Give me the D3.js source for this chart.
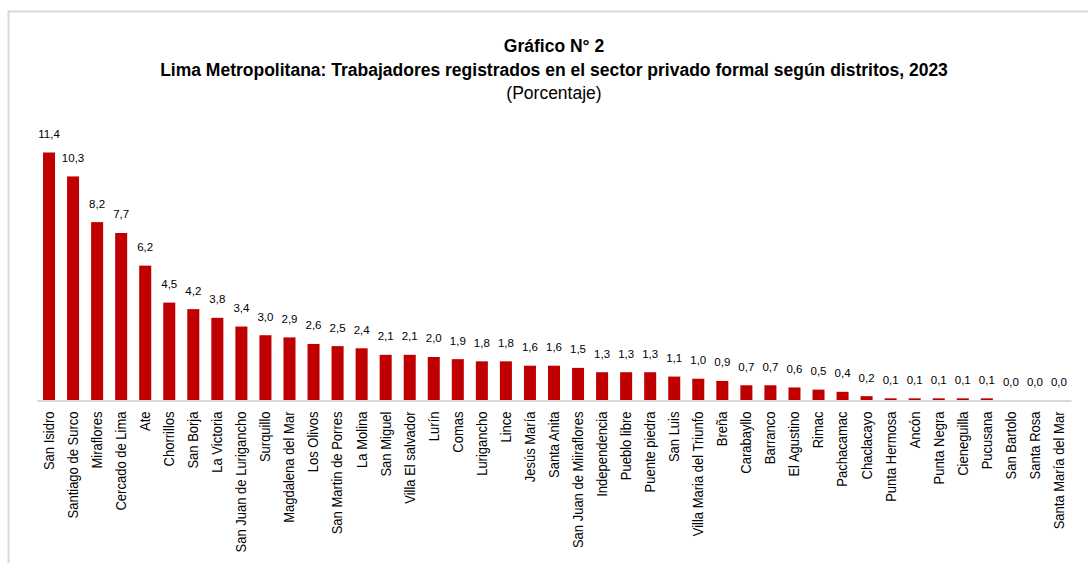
<!DOCTYPE html>
<html>
  <head>
    <meta charset="utf-8">
    <title>Trabajadores registrados por distrito</title>
    <script src="https://d3js.org/d3.v7.min.js"></script>
    <style>
      body { margin: 0; background: #fff; }
      svg text { font-family: "Liberation Sans", Arial, sans-serif; fill: #000; }
    </style>
  </head>
  <body>
    <svg id="chart" width="1088" height="563"></svg>

    <script>
      // data
      const distritos = [
        "San Isidro", "Santiago de Surco", "Miraflores", "Cercado de Lima", "Ate",
        "Chorrillos", "San Borja", "La Victoria", "San Juan de Lurigancho", "Surquillo",
        "Magdalena del Mar", "Los Olivos", "San Martin de Porres", "La Molina", "San Miguel",
        "Villa El salvador", "Lurín", "Comas", "Lurigancho", "Lince",
        "Jesús María", "Santa Anita", "San Juan de Miiraflores", "Independencia", "Pueblo libre",
        "Puente piedra", "San Luis", "Villa Maria del Triunfo", "Breña", "Carabayllo",
        "Barranco", "El Agustino", "Rimac", "Pachacamac", "Chaclacayo",
        "Punta Hermosa", "Ancón", "Punta Negra", "Cieneguilla", "Pucusana",
        "San Bartolo", "Santa Rosa", "Santa María del Mar"
      ];
      const porcentajes = [
        11.4, 10.3, 8.2, 7.7, 6.2,
        4.5, 4.2, 3.8, 3.4, 3.0,
        2.9, 2.6, 2.5, 2.4, 2.1,
        2.1, 2.0, 1.9, 1.8, 1.8,
        1.6, 1.6, 1.5, 1.3, 1.3,
        1.3, 1.1, 1.0, 0.9, 0.7,
        0.7, 0.6, 0.5, 0.4, 0.2,
        0.1, 0.1, 0.1, 0.1, 0.1,
        0.0, 0.0, 0.0
      ];
      const titulos = [
        "Gráfico N° 2",
        "Lima Metropolitana: Trabajadores registrados en el sector privado formal según distritos, 2023",
        "(Porcentaje)"
      ];

      const data = distritos.map((d, i) => ({ name: d, value: porcentajes[i] }));

      const svg = d3.select("#chart");

      // outer frame
      svg.append("rect")
        .attr("x", 8.5).attr("y", 11.5)
        .attr("width", 1090).attr("height", 560)
        .attr("fill", "none")
        .attr("stroke", "#d9d9d9")
        .attr("stroke-width", 2);

      // titles
      svg.selectAll("text.titulo")
        .data(titulos)
        .enter()
        .append("text")
        .attr("class", "titulo")
        .attr("x", 554)
        .attr("y", (d, i) => 52 + i * 23.5)
        .attr("text-anchor", "middle")
        .style("font-size", "17.5px")
        .style("font-weight", (d, i) => i < 2 ? "bold" : "normal")
        .text(d => d);

      const x = d3.scaleBand()
        .domain(distritos)
        .range([37, 1071])
        .paddingInner(0.5)
        .paddingOuter(0.25);

      const y = d3.scaleLinear()
        .domain([0, 11.4])
        .range([400.5, 152.5]);

      // bars
      svg.selectAll("rect.bar")
        .data(data)
        .enter()
        .append("rect")
        .attr("class", "bar")
        .attr("x", d => x(d.name))
        .attr("width", x.bandwidth())
        .attr("y", d => y(d.value))
        .attr("height", d => y(0) - y(d.value))
        .attr("fill", "#c00000");

      // value labels (decimal comma)
      const fmt = d3.formatLocale({ decimal: ",", thousands: ".", grouping: [3], currency: ["", ""] }).format(".1f");
      svg.selectAll("text.valor")
        .data(data)
        .enter()
        .append("text")
        .attr("class", "valor")
        .attr("x", d => x(d.name) + x.bandwidth() / 2)
        .attr("y", d => y(d.value) - 14.5)
        .attr("text-anchor", "middle")
        .style("font-size", "11.5px")
        .text(d => fmt(d.value));

      // x axis
      const xAxis = svg.append("g")
        .attr("transform", "translate(0,400.5)")
        .call(d3.axisBottom(x).tickSize(0).tickPadding(0));
      xAxis.select(".domain")
        .attr("stroke", "#d9d9d9")
        .attr("stroke-width", 2);
      xAxis.selectAll(".tick text")
        .attr("transform", "translate(0,11) rotate(-90) scale(0.93,1)")
        .attr("x", 0)
        .attr("y", 0)
        .attr("dy", "0.35em")
        .attr("text-anchor", "end")
        .style("font-size", "14px")
        .style("font-family", null);
    </script>
  </body>
</html>
